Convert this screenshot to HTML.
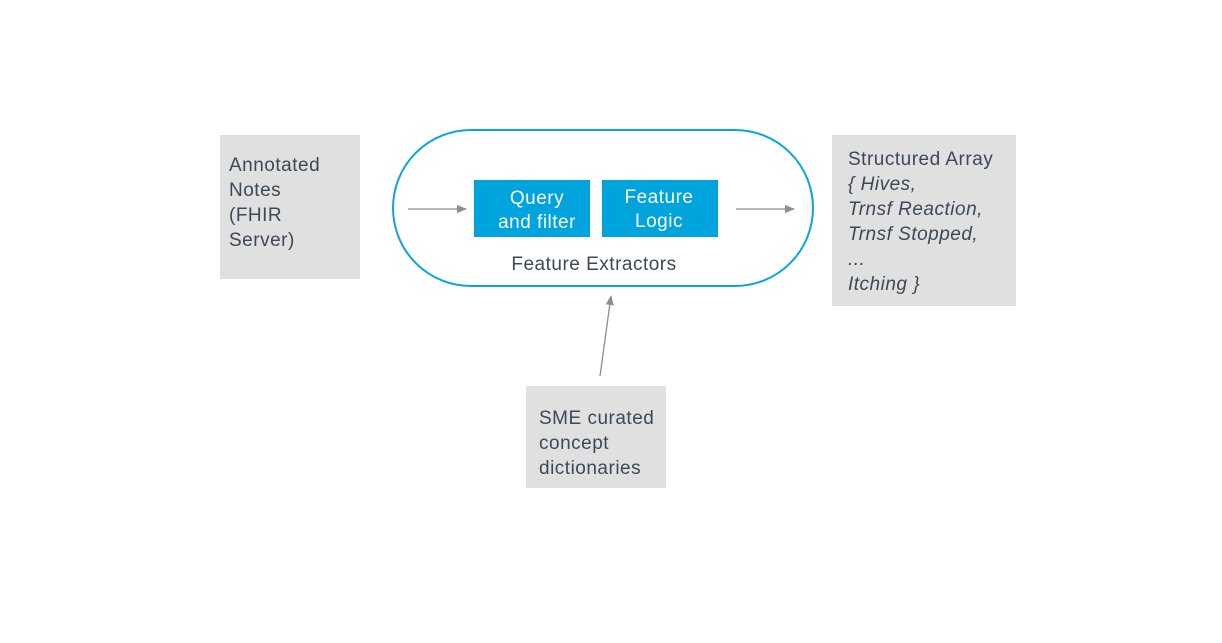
<!DOCTYPE html>
<html><head><meta charset="utf-8"><style>
html,body{margin:0;padding:0;background:#fff;}
svg{display:block;}
text{font-family:"Liberation Sans",sans-serif;font-size:19px;letter-spacing:0.5px;fill:#3d4856;}
.w{fill:#fff;}
.i{font-style:italic;}
</style></head><body>
<svg width="1222" height="643" viewBox="0 0 1222 643">
<defs><marker id="a" markerWidth="10" markerHeight="10" refX="9" refY="5" orient="auto" markerUnits="userSpaceOnUse"><path d="M0,1 L10,5 L0,9 z" fill="#8d8d8d"/></marker></defs>
<rect x="220" y="135" width="140" height="144" fill="#e0e0e0"/>
<text x="229" y="171">Annotated</text>
<text x="229" y="196">Notes</text>
<text x="229" y="221">(FHIR</text>
<text x="229" y="246">Server)</text>

<rect x="393" y="130" width="420" height="156" rx="78" ry="78" fill="none" stroke="#0ba5dc" stroke-width="2"/>
<rect x="474" y="180" width="116" height="57" fill="#00a4dc"/>
<rect x="602" y="180" width="116" height="57" fill="#00a4dc"/>
<text class="w" x="537" y="204" text-anchor="middle">Query</text>
<text class="w" x="537" y="228" text-anchor="middle">and filter</text>
<text class="w" x="659" y="203" text-anchor="middle">Feature</text>
<text class="w" x="659" y="227" text-anchor="middle">Logic</text>
<text x="594" y="270" text-anchor="middle">Feature Extractors</text>
<line x1="408" y1="209" x2="466" y2="209" stroke="#8d8d8d" stroke-width="1.3" marker-end="url(#a)"/>
<line x1="736" y1="209" x2="794" y2="209" stroke="#8d8d8d" stroke-width="1.3" marker-end="url(#a)"/>
<line x1="600" y1="376" x2="611" y2="296" stroke="#8d8d8d" stroke-width="1.3" marker-end="url(#a)"/>

<rect x="832" y="135" width="184" height="171" fill="#e0e0e0"/>
<text x="848" y="165">Structured Array</text>
<text class="i" x="848" y="190">{ Hives,</text>
<text class="i" x="848" y="215">Trnsf Reaction,</text>
<text class="i" x="848" y="240">Trnsf Stopped,</text>
<text class="i" x="848" y="265">...</text>
<text class="i" x="848" y="290">Itching }</text>

<rect x="526" y="386" width="140" height="102" fill="#e0e0e0"/>
<text x="539" y="424">SME curated</text>
<text x="539" y="449">concept</text>
<text x="539" y="474">dictionaries</text>
</svg>
</body></html>
